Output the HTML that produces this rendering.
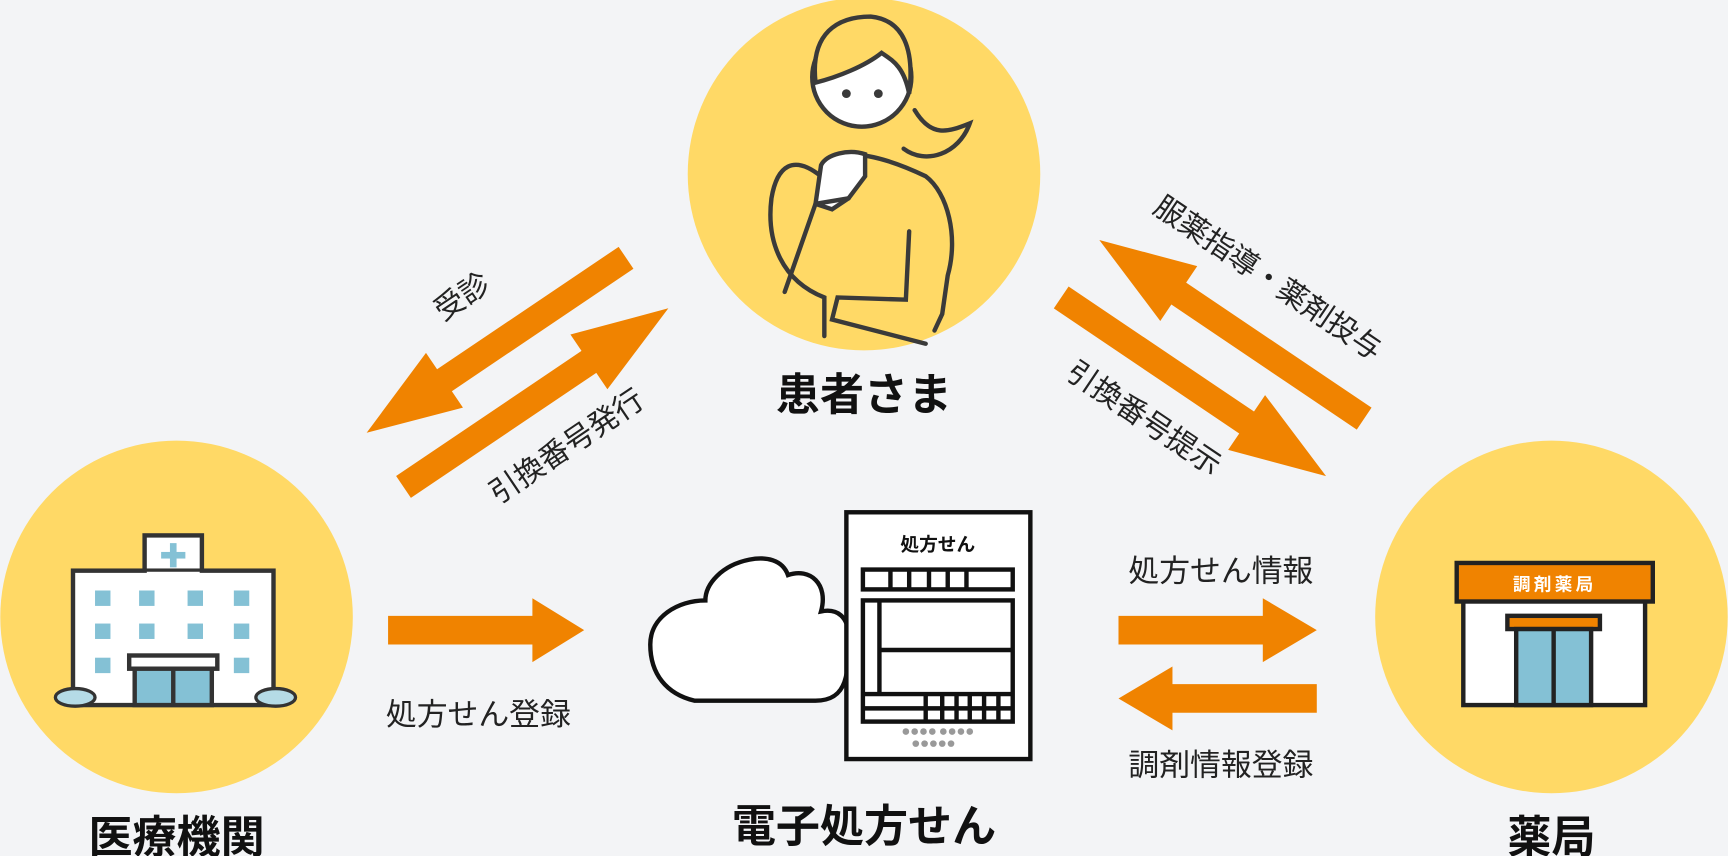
<!DOCTYPE html>
<html><head><meta charset="utf-8"><style>
html,body{margin:0;padding:0;background:#f3f4f6;}
svg{display:block;}
text{font-family:"Liberation Sans","Noto Sans CJK JP",sans-serif;fill:#222;}
.t{font-size:28px;}
.d{font-size:27px;}
.b{font-size:40px;font-weight:bold;fill:#111;}
</style></head><body>
<svg width="1728" height="856" viewBox="0 0 1568 777" xmlns="http://www.w3.org/2000/svg">
<rect width="1568" height="777" fill="#f3f4f6"/>
<defs>
<g id="arr"><polygon points="0,-12 140,-12 140,-30 200,0 140,30 140,12 0,12" fill="#f08300"/></g>
</defs>
<circle cx="160" cy="560" r="160" fill="#ffd966"/>
<circle cx="784" cy="158" r="160" fill="#ffd966"/>
<circle cx="1408" cy="560" r="160" fill="#ffd966"/>

<g transform="translate(568,234) rotate(146)"><use href="#arr" transform="scale(1.42,1)"/></g>
<g transform="translate(366,442) rotate(-34)"><use href="#arr" transform="scale(1.45,1)"/></g>
<g transform="translate(1238,380) rotate(214)"><use href="#arr" transform="scale(1.45,1)"/></g>
<g transform="translate(963,270) rotate(34)"><use href="#arr" transform="scale(1.45,1)"/></g>
<polygon points="352,559 483,559 483,543 530,572 483,601 483,585 352,585" fill="#f08300"/>
<polygon points="1015,559 1146,559 1146,543 1195,572 1146,601 1146,585 1015,585" fill="#f08300"/>
<polygon points="1195,621 1064,621 1064,605 1015,634 1064,663 1064,647 1195,647" fill="#f08300"/>

<text class="d" transform="translate(402,292) rotate(-34)">受診</text>
<text class="d" transform="translate(452,458) rotate(-34)">引換番号発行</text>
<text class="d" transform="translate(1045,192) rotate(34)">服薬指導・薬剤投与</text>
<text class="d" transform="translate(966,342) rotate(34)">引換番号提示</text>
<text class="t" x="350" y="658">処方せん登録</text>
<text class="t" x="1024" y="528">処方せん情報</text>
<text class="t" x="1024" y="704">調剤情報登録</text>

<text class="b" x="160" y="774" text-anchor="middle">医療機関</text>
<text class="b" x="784" y="372" text-anchor="middle">患者さま</text>
<text class="b" x="784" y="764" text-anchor="middle">電子処方せん</text>
<text class="b" x="1408" y="774" text-anchor="middle">薬局</text>

<g stroke="#333" stroke-width="4">
<rect x="131" y="486" width="52" height="40" fill="#fff"/>
<rect x="66" y="518" width="182" height="122" fill="#fff"/>
<rect x="133" y="519" width="48" height="6" fill="#fff" stroke="none"/>
</g>
<rect x="154" y="493" width="6" height="22" fill="#84c1d5"/><rect x="146" y="501" width="22" height="6" fill="#84c1d5"/>
<g fill="#84c1d5">
<rect x="86" y="536" width="14" height="14"/><rect x="126" y="536" width="14" height="14"/><rect x="170" y="536" width="14" height="14"/><rect x="212" y="536" width="14" height="14"/>
<rect x="86" y="566" width="14" height="14"/><rect x="126" y="566" width="14" height="14"/><rect x="170" y="566" width="14" height="14"/><rect x="212" y="566" width="14" height="14"/>
<rect x="86" y="597" width="14" height="14"/><rect x="212" y="597" width="14" height="14"/>
</g>
<rect x="117" y="595" width="80" height="12" fill="#fff" stroke="#333" stroke-width="4"/>
<rect x="122" y="607" width="70" height="33" fill="#84c1d5" stroke="#333" stroke-width="4"/>
<line x1="157" y1="607" x2="157" y2="640" stroke="#333" stroke-width="4"/>
<ellipse cx="68" cy="633" rx="18" ry="8" fill="#b5dbe6" stroke="#333" stroke-width="3"/>
<ellipse cx="250" cy="633" rx="18" ry="8" fill="#b5dbe6" stroke="#333" stroke-width="3"/>

<g stroke="#3a3a3a" stroke-width="4" fill="none" stroke-linecap="round">
<path d="M748,305 L748,270 C710,255 695,220 700,180 C705,150 720,140 745,160 L770,140 C790,140 815,148 840,160 C860,175 870,215 860,250 L855,285 L848,300" fill="#ffd966"/>
<circle cx="782" cy="70" r="45" fill="#fff"/>
<path d="M740,75 C735,30 760,15 790,15 C820,18 830,45 825,85 C820,60 810,55 800,48 C785,60 760,70 740,75 Z" fill="#ffd966"/>
<path d="M830,100 C845,125 860,120 880,112 C870,140 840,150 820,135" fill="#ffd966"/>
<path d="M755,190 L740,185 L745,150 C750,140 770,135 785,140 L785,160 L770,180 Z" fill="#fff"/>
<path d="M825,210 L822,272 L760,270 L755,290 L840,312" />
<path d="M770,180 L740,185 L712,265"/>
</g>
<circle cx="768" cy="85" r="4" fill="#3a3a3a"/><circle cx="797" cy="85" r="4" fill="#3a3a3a"/>

<path d="M770,578 C770,560 760,552 745,555 C752,530 735,515 715,522 C710,508 695,505 680,508 C655,513 640,530 640,545 C615,545 590,560 590,585 C590,612 605,630 630,636 L740,636 C770,636 770,610 770,578 Z" fill="#fff" stroke="#111" stroke-width="4"/>
<rect x="768" y="465" width="167" height="224" fill="#fff" stroke="#111" stroke-width="4"/>
<text x="851" y="500" text-anchor="middle" style="font-size:17px;font-weight:bold;fill:#111">処方せん</text>
<g stroke="#111" stroke-width="4" fill="none">
<rect x="783" y="517" width="136" height="18"/>
<line x1="808" y1="517" x2="808" y2="535"/><line x1="825" y1="517" x2="825" y2="535"/><line x1="843" y1="517" x2="843" y2="535"/><line x1="860" y1="517" x2="860" y2="535"/><line x1="877" y1="517" x2="877" y2="535"/>
<rect x="783" y="545" width="136" height="110"/>
<line x1="798" y1="545" x2="798" y2="630"/>
<line x1="798" y1="590" x2="919" y2="590"/>
<line x1="783" y1="630" x2="919" y2="630"/>
<line x1="783" y1="643" x2="919" y2="643"/>
<line x1="840" y1="630" x2="840" y2="655"/><line x1="855" y1="630" x2="855" y2="655"/><line x1="868" y1="630" x2="868" y2="655"/><line x1="880" y1="630" x2="880" y2="655"/><line x1="893" y1="630" x2="893" y2="655"/><line x1="906" y1="630" x2="906" y2="655"/>
</g>
<g fill="#999">
<circle cx="822" cy="664" r="3"/><circle cx="830" cy="664" r="3"/><circle cx="838" cy="664" r="3"/><circle cx="846" cy="664" r="3"/>
<circle cx="856" cy="664" r="3"/><circle cx="864" cy="664" r="3"/><circle cx="872" cy="664" r="3"/><circle cx="880" cy="664" r="3"/>
<circle cx="831" cy="675" r="3"/><circle cx="839" cy="675" r="3"/><circle cx="847" cy="675" r="3"/><circle cx="855" cy="675" r="3"/><circle cx="863" cy="675" r="3"/>
</g>

<rect x="1328" y="545" width="165" height="95" fill="#fff" stroke="#222" stroke-width="4"/>
<rect x="1322" y="511" width="178" height="35" fill="#f08300" stroke="#222" stroke-width="4"/>
<text x="1411" y="536" text-anchor="middle" style="font-size:16px;font-weight:bold;fill:#fff;letter-spacing:3px">調剤薬局</text>
<rect x="1368" y="559" width="84" height="12" fill="#f08300" stroke="#222" stroke-width="4"/>
<rect x="1376" y="571" width="68" height="69" fill="#84c1d5" stroke="#222" stroke-width="4"/>
<line x1="1410" y1="571" x2="1410" y2="640" stroke="#222" stroke-width="4"/>
</svg>
</body></html>
